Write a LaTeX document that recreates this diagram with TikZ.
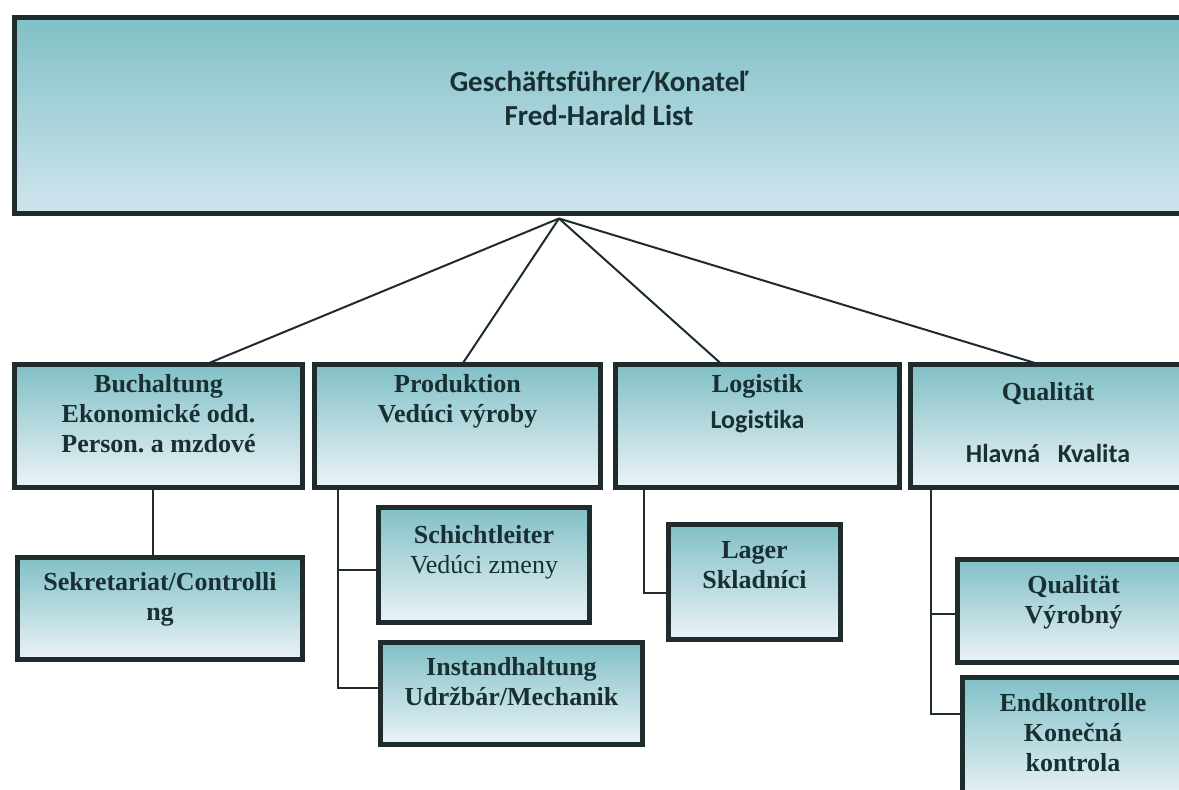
\documentclass[tikz,border=0pt]{standalone}
\usepackage{fontspec}
\setmainfont{Liberation Serif}
\newfontfamily\calfont[Ligatures=NoCommon]{Carlito}
\usetikzlibrary{positioning}
\definecolor{boxline}{RGB}{30,44,46}
\definecolor{boxtop}{RGB}{128,192,198}
\definecolor{boxbot}{RGB}{236,243,247}
\definecolor{inktxt}{RGB}{24,48,50}
\newcommand{\bordw}{5pt}
\newcommand{\linkw}{2pt}
\frenchspacing

\begin{document}
\begin{tikzpicture}[x=1pt,y=-1pt,
    unit/.style={rectangle, draw=boxline, line width=\bordw, top color=boxtop, bottom color=boxbot, inner sep=0pt, outer sep=0pt},
    lbl/.style={align=center, inner sep=0pt, text=inktxt, font=\fontsize{26}{30}\selectfont\bfseries},
    link/.style={draw=boxline, line width=\linkw}]
            \clip (0,0) rectangle (1179,790);
            %\draw[help lines] (0,0) grid[step=50] (1179,790);
            % boxes
            \node[unit, minimum width=1176pt, minimum height=196pt, bottom color={rgb,255:red,208;green,229;blue,238}] (boss) at (602,115.5) {};
            \node[unit, minimum width=288pt, minimum height=123pt] (buch) at (158.5,426) {};
            \node[unit, minimum width=286pt, minimum height=123pt] (prod) at (457.5,426) {};
            \node[unit, minimum width=284pt, minimum height=123pt] (logi) at (757.5,426) {};
            \node[unit, minimum width=280pt, minimum height=123pt] (qual) at (1050,426) {};
            \node[unit, minimum width=285pt, minimum height=102pt] (sekr) at (160,608.5) {};
            \node[unit, minimum width=211pt, minimum height=115pt] (schi) at (484,565) {};
            \node[unit, minimum width=262pt, minimum height=102pt] (inst) at (511.5,693.5) {};
            \node[unit, minimum width=172pt, minimum height=115pt] (lager) at (754.5,582) {};
            \node[unit, minimum width=233pt, minimum height=103pt] (qvyr) at (1073.5,611) {};
            \node[unit, minimum width=228pt, minimum height=123pt] (endk) at (1076,739) {};
            % texts
            \node[lbl, font=\calfont\fontsize{29}{34}\selectfont\bfseries, below=53.5pt of boss.north, xshift=-3pt] (bossL) {Geschäftsführer/Konateľ\\Fred-Harald List};
            \node[lbl, below=10pt of buch.north] (buchL) {Buchaltung\\Ekonomické odd.\\Person. a mzdové};
            \node[lbl, below=10pt of prod.north] (prodL) {Produktion\\Vedúci výroby};
            \node[lbl, below=9.5pt of logi.north] (logiL) {Logistik\\[6pt]{\calfont Logistika}};
            \node[lbl, below=18pt of qual.north, xshift=-2pt] (qualL) {Qualität\\[32pt]{\calfont Hlavná\ \ \ Kvalita}};
            \node[lbl, below=15pt of sekr.north] (sekrL) {Sekretariat/Controlli\\ng};
            \node[lbl, below=18pt of schi.north] (schiL) {Schichtleiter\\{\mdseries Vedúci zmeny}};
            \node[lbl, below=15pt of inst.north] (instL) {Instandhaltung\\Udržbár/Mechanik};
            \node[lbl, below=17pt of lager.north] (lagerL) {Lager\\Skladníci};
            \node[lbl, below=16pt of qvyr.north] (qvyrL) {Qualität\\Výrobný};
            \node[lbl, below=16pt of endk.north, xshift=-3pt] (endkL) {Endkontrolle\\Konečná\\kontrola};
            % links
            \coordinate (apex) at ([xshift=-43pt, yshift=-5pt]boss.south);
            \draw[link] (apex) -- ([xshift=47pt]buch.north);
            \draw[link] (apex) -- ([xshift=4.5pt]prod.north);
            \draw[link] (apex) -- ([xshift=-35.5pt]logi.north);
            \draw[link] (apex) -- ([xshift=-10pt]qual.north);
            \draw[link] ([xshift=-5.5pt]buch.south) -- ([xshift=-5.5pt]buch.south |- sekr.north);
            \coordinate (prodT) at ([xshift=23.5pt]prod.south west);
            \draw[link] (prodT) |- ([yshift=6pt]inst.west);
            \draw[link] ([yshift=-5pt]prodT |- schi.west) -- ([yshift=-5pt]schi.west);
            \coordinate (logiT) at ([xshift=28pt]logi.south west);
            \draw[link] (logiT) |- ([yshift=-11pt]lager.west);
            \coordinate (qualT) at ([xshift=20.5pt]qual.south west);
            \draw[link] (qualT) |- ([yshift=25.5pt]endk.west);
            \draw[link] ([yshift=-3pt]qualT |- qvyr.west) -- ([yshift=-3pt]qvyr.west);
        \end{tikzpicture}
\end{document}
